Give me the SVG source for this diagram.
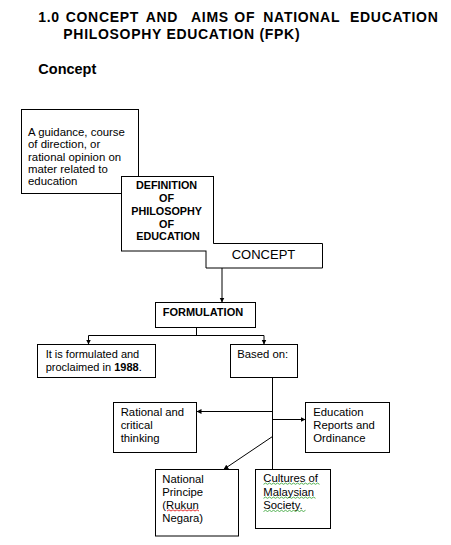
<svg xmlns="http://www.w3.org/2000/svg" width="451" height="545" viewBox="0 0 451 545">
<style>
.box{fill:#fff;stroke:#000;stroke-width:1}
.t{font-family:"Liberation Sans",Arial,sans-serif;font-size:11.3px;fill:#000}
.b{font-weight:bold}
.h{font-family:"Liberation Sans",Arial,sans-serif;font-weight:bold;font-size:14px;fill:#000;letter-spacing:0.7px}
.ln{fill:none;stroke:#000;stroke-width:1}
.sq{fill:none;stroke-width:0.8}
</style>
<defs>
<marker id="ah" markerUnits="userSpaceOnUse" markerWidth="6" markerHeight="6" refX="5" refY="2.5" orient="auto">
<path d="M0,0 L5,2.5 L0,5 z" fill="#000"/>
</marker>
</defs>
<rect width="451" height="545" fill="#fff"/>
<g id="title">
<text class="h" x="38.3" y="22">1.0</text>
<text class="h" x="65.7" y="22">CONCEPT</text>
<text class="h" x="145.7" y="22">AND</text>
<text class="h" x="191" y="22">AIMS</text>
<text class="h" x="234.3" y="22">OF</text>
<text class="h" x="263.3" y="22">NATIONAL</text>
<text class="h" x="350" y="22">EDUCATION</text>
<text class="h" x="63.3" y="39.3" textLength="237" lengthAdjust="spacing">PHILOSOPHY EDUCATION (FPK)</text>
<text class="h" x="38.3" y="74" style="font-size:14.5px;letter-spacing:0">Concept</text>
</g>
<g id="connectors">
<line class="ln" x1="222" y1="268" x2="222" y2="302.5" marker-end="url(#ah)"/>
<polyline class="ln" points="196.5,327.5 196.5,335.5"/>
<polyline class="ln" points="88.5,335.5 264,335.5"/>
<line class="ln" x1="88.5" y1="335.5" x2="88.5" y2="344.5" marker-end="url(#ah)"/>
<line class="ln" x1="264" y1="335.5" x2="264" y2="344.5" marker-end="url(#ah)"/>
<line class="ln" x1="272.5" y1="377.5" x2="272.5" y2="469.5"/>
<line class="ln" x1="272.5" y1="411.5" x2="196.5" y2="411.5" marker-end="url(#ah)"/>
<line class="ln" x1="272.5" y1="419.5" x2="305.5" y2="419.5" marker-end="url(#ah)"/>
<line class="ln" x1="272.5" y1="436.5" x2="223.5" y2="469.5" marker-end="url(#ah)"/>
</g>
<g id="n-guidance">
<rect class="box" x="21.5" y="109.5" width="117" height="84"/>
<text class="t" style="font-size:11.4px">
<tspan x="28" y="135.7">A guidance, course</tspan>
<tspan x="28" y="148.1">of direction, or</tspan>
<tspan x="28" y="160.5">rational opinion on</tspan>
<tspan x="28" y="172.9">mater related to</tspan>
<tspan x="28" y="185.3">education</tspan>
</text>
</g>
<g id="n-definition">
<rect class="box" x="121.5" y="176.5" width="92" height="74.5"/>
<text class="t b" text-anchor="middle" style="font-size:10.8px">
<tspan x="168" y="189.3">DEFINITION</tspan>
<tspan x="168" y="202">OF</tspan>
<tspan x="168" y="214.8">PHILOSOPHY</tspan>
<tspan x="168" y="227.6">OF</tspan>
<tspan x="168" y="240.4">EDUCATION</tspan>
</text>
</g>
<g id="n-concept">
<path class="box" d="M213.5,243.5 H322.5 V268 H206 V251"/>
<text class="t" x="263.5" y="259.3" text-anchor="middle" style="font-size:13px">CONCEPT</text>
</g>
<g id="n-formulation">
<rect class="box" x="155.5" y="302.5" width="100" height="25"/>
<text class="t b" x="162.7" y="316" style="font-size:11px">FORMULATION</text>
</g>
<g id="n-formulated">
<rect class="box" x="37.5" y="344.5" width="118" height="33"/>
<text class="t" style="font-size:11px">
<tspan x="45.7" y="357.7">It is formulated and</tspan>
<tspan x="45.7" y="371">proclaimed in <tspan class="b">1988</tspan>.</tspan>
</text>
</g>
<g id="n-based">
<rect class="box" x="230.5" y="344.5" width="67" height="33"/>
<text class="t" x="237.3" y="358.3">Based on:</text>
</g>
<g id="n-rational">
<rect class="box" x="113.5" y="402.5" width="83" height="50"/>
<text class="t">
<tspan x="120.7" y="415.7">Rational and</tspan>
<tspan x="120.7" y="429">critical</tspan>
<tspan x="120.7" y="442.3">thinking</tspan>
</text>
</g>
<g id="n-education">
<rect class="box" x="305.5" y="402.5" width="84" height="50"/>
<text class="t">
<tspan x="313.3" y="415.7">Education</tspan>
<tspan x="313.3" y="429">Reports and</tspan>
<tspan x="313.3" y="442.3">Ordinance</tspan>
</text>
</g>
<g id="n-national">
<rect class="box" x="155.5" y="469.5" width="83" height="66.5"/>
<text class="t">
<tspan x="162.3" y="483">National</tspan>
<tspan x="162.3" y="496">Principe</tspan>
<tspan x="162.3" y="509">(Rukun</tspan>
<tspan x="162.3" y="522">Negara)</tspan>
</text>
<path class="sq" stroke="#e00000" d="M167,511 l2,-1.2 l2,1.2 l2,-1.2 l2,1.2 l2,-1.2 l2,1.2 l2,-1.2 l2,1.2 l2,-1.2 l2,1.2 l2,-1.2 l2,1.2 l2,-1.2 l2,1.2 l2,-1.2 l2,1.2"/>
</g>
<g id="n-cultures">
<rect class="box" x="255.5" y="469.5" width="75" height="59"/>
<text class="t">
<tspan x="263.3" y="482">Cultures of</tspan>
<tspan x="263.3" y="495.5">Malaysian</tspan>
<tspan x="263.3" y="509">Society.</tspan>
</text>
<path class="sq" stroke="#2a9d2a" d="M263.5,484.3 l2,-1.2 l2,1.2 l2,-1.2 l2,1.2 l2,-1.2 l2,1.2 l2,-1.2 l2,1.2 l2,-1.2 l2,1.2 l2,-1.2 l2,1.2 l2,-1.2 l2,1.2 l2,-1.2 l2,1.2 l2,-1.2 l2,1.2 l2,-1.2 l2,1.2 l2,-1.2 l2,1.2 l2,-1.2 l2,1.2 l2,-1.2 l2,1.2 l2,-1.2 l2,1.2"/>
<path class="sq" stroke="#2a9d2a" d="M263.5,498.3 l2,-1.2 l2,1.2 l2,-1.2 l2,1.2 l2,-1.2 l2,1.2 l2,-1.2 l2,1.2 l2,-1.2 l2,1.2 l2,-1.2 l2,1.2 l2,-1.2 l2,1.2 l2,-1.2 l2,1.2 l2,-1.2 l2,1.2 l2,-1.2 l2,1.2 l2,-1.2 l2,1.2 l2,-1.2 l2,1.2 l2,-1.2 l2,1.2"/>
<path class="sq" stroke="#2a9d2a" d="M263.5,511.5 l2,-1.2 l2,1.2 l2,-1.2 l2,1.2 l2,-1.2 l2,1.2 l2,-1.2 l2,1.2 l2,-1.2 l2,1.2 l2,-1.2 l2,1.2 l2,-1.2 l2,1.2 l2,-1.2 l2,1.2 l2,-1.2 l2,1.2 l2,-1.2 l2,1.2 l2,-1.2"/>
</g>
</svg>
